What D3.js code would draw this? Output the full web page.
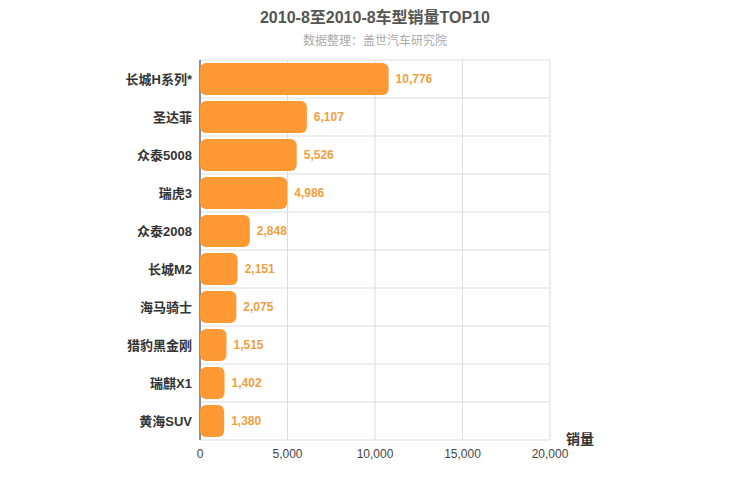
<!DOCTYPE html>
<html><head><meta charset="utf-8">
<script src="https://cdn.jsdelivr.net/npm/d3@7"></script>
<style>body{margin:0;background:#fff}text{font-family:"Liberation Sans","Noto Sans CJK SC",sans-serif}</style>
</head><body><svg id="c" width="750" height="500"></svg>
<script>
const categories=["长城H系列*","圣达菲","众泰5008","瑞虎3","众泰2008","长城M2","海马骑士","猎豹黑金刚","瑞麒X1","黄海SUV"];
const values=[10776,6107,5526,4986,2848,2151,2075,1515,1402,1380];
const xTicks=[0,5000,10000,15000,20000];
const svg=d3.select("#c");
const L=200,R=550,T=60,B=440;
const x=d3.scaleLinear().domain([0,20000]).range([L,R]);
const y=d3.scaleBand().domain(categories).range([T,B]).paddingInner(0.16).paddingOuter(0.08);
const band=(B-T)/categories.length;
svg.selectAll(".vg").data(xTicks).enter().append("line").attr("x1",d=>x(d)).attr("x2",d=>x(d)).attr("y1",T).attr("y2",B).attr("stroke","#ddd");
svg.selectAll(".hg").data(d3.range(categories.length+1)).enter().append("line").attr("x1",L).attr("x2",R).attr("y1",i=>T+i*band).attr("y2",i=>T+i*band).attr("stroke","#ddd");
svg.append("line").attr("x1",L).attr("x2",L).attr("y1",T).attr("y2",B).attr("stroke","#333");
svg.selectAll(".bar").data(values).enter().append("rect").attr("x",L).attr("y",(d,i)=>y(categories[i])).attr("width",d=>x(d)-L).attr("height",y.bandwidth()).attr("rx",6).attr("fill","#ff9933");
svg.selectAll(".vl").data(values).enter().append("text").attr("x",d=>x(d)+7).attr("y",(d,i)=>y(categories[i])+y.bandwidth()/2+4).attr("font-size",12).attr("font-weight","bold").attr("fill","#f0a040").text(d=>d3.format(",")(d));
svg.selectAll(".cl").data(categories).enter().append("text").attr("x",L-8).attr("y",d=>y(d)+y.bandwidth()/2+5).attr("text-anchor","end").attr("font-size",13).attr("font-weight","bold").attr("fill","#333").text(d=>d);
svg.selectAll(".xt").data(xTicks).enter().append("text").attr("x",d=>x(d)).attr("y",B+18).attr("text-anchor","middle").attr("font-size",12).attr("fill","#444").text(d=>d3.format(",")(d));
svg.append("text").attr("x",580).attr("y",444).attr("text-anchor","middle").attr("font-size",14).attr("font-weight","bold").attr("fill","#333").text("销量");
svg.append("text").attr("x",375).attr("y",23).attr("text-anchor","middle").attr("font-size",16).attr("font-weight","bold").attr("fill","#555").text("2010-8至2010-8车型销量TOP10");
svg.append("text").attr("x",375).attr("y",45).attr("text-anchor","middle").attr("font-size",12).attr("fill","#aaa").text("数据整理：盖世汽车研究院");
</script></body></html>
